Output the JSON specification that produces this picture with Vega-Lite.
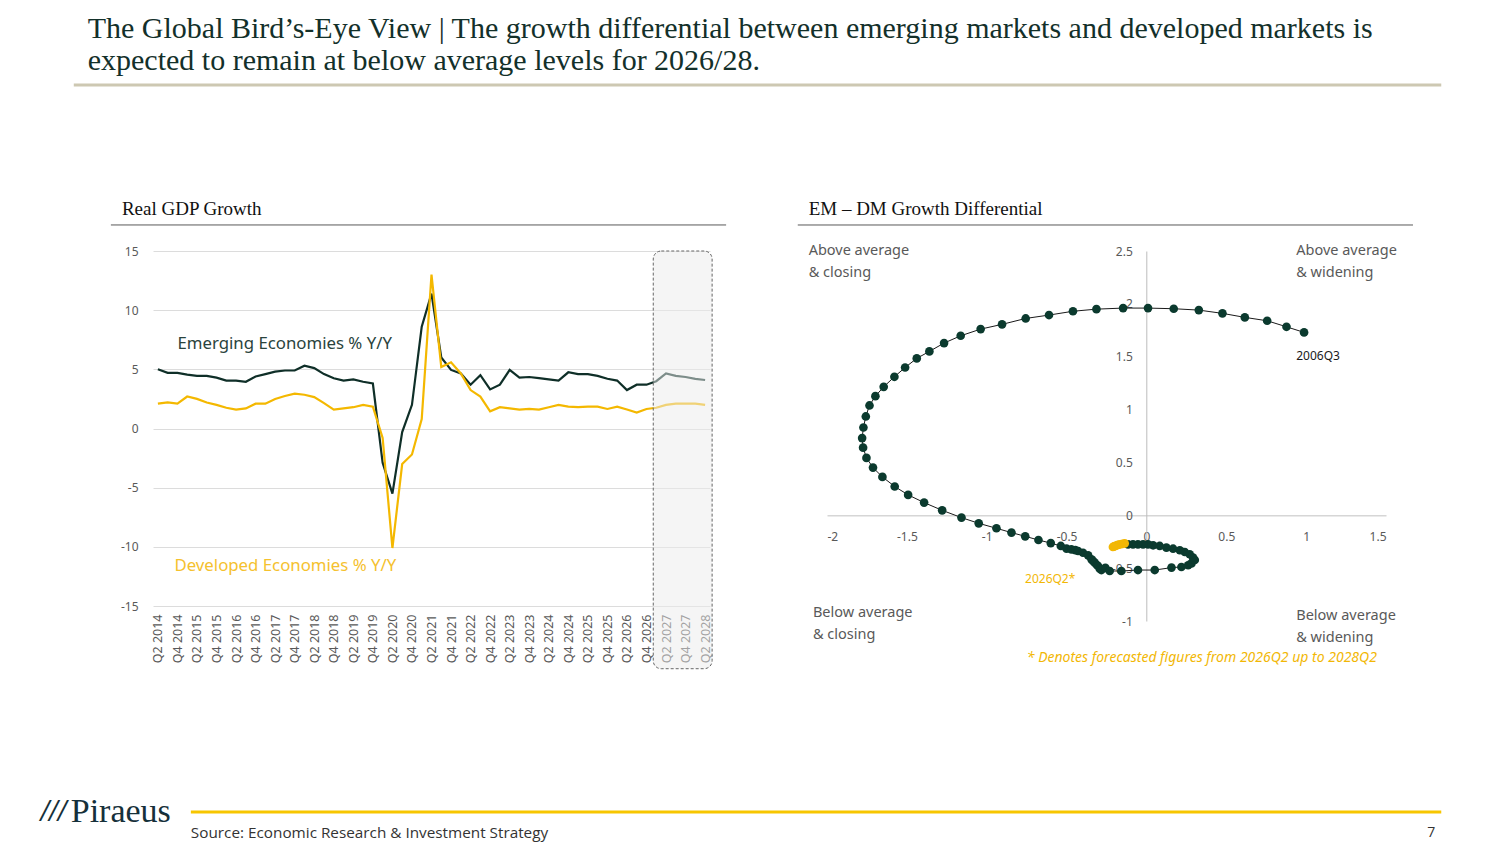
{
  "$schema": "https://vega.github.io/schema/vega-lite/v6.json",
  "background": "white",
  "padding": {"left": 40, "top": 13, "right": 40, "bottom": 10},
  "title": {
    "text": ["The Global Bird’s-Eye View | The growth differential between emerging markets and developed markets is", "expected to remain at below average levels for 2026/28."],
    "anchor": "start",
    "frame": "bounds",
    "font": "Liberation Serif",
    "fontSize": 30,
    "fontWeight": "normal",
    "color": "#13302a",
    "lineHeight": 32,
    "baseline": "bottom",
    "offset": -22,
    "dx": 47
  },
  "config": {
    "view": {"stroke": null},
    "axis": {"labelFont": "Noto Sans", "labelColor": "#595959", "labelFontSize": 12, "ticks": false, "title": null},
    "text": {"font": "Noto Sans"}
  },
  "datasets": {
    "gdp": [
      {"quarter": "Q2 2014", "emerging": 5.0, "developed": 2.1},
      {"quarter": "Q3 2014", "emerging": 4.7, "developed": 2.2},
      {"quarter": "Q4 2014", "emerging": 4.7, "developed": 2.1},
      {"quarter": "Q1 2015", "emerging": 4.55, "developed": 2.7},
      {"quarter": "Q2 2015", "emerging": 4.45, "developed": 2.5},
      {"quarter": "Q3 2015", "emerging": 4.45, "developed": 2.2},
      {"quarter": "Q4 2015", "emerging": 4.3, "developed": 2.0},
      {"quarter": "Q1 2016", "emerging": 4.05, "developed": 1.75},
      {"quarter": "Q2 2016", "emerging": 4.05, "developed": 1.6},
      {"quarter": "Q3 2016", "emerging": 3.95, "developed": 1.7},
      {"quarter": "Q4 2016", "emerging": 4.4, "developed": 2.1},
      {"quarter": "Q1 2017", "emerging": 4.6, "developed": 2.1},
      {"quarter": "Q2 2017", "emerging": 4.8, "developed": 2.5},
      {"quarter": "Q3 2017", "emerging": 4.9, "developed": 2.75},
      {"quarter": "Q4 2017", "emerging": 4.9, "developed": 2.95},
      {"quarter": "Q1 2018", "emerging": 5.3, "developed": 2.85},
      {"quarter": "Q2 2018", "emerging": 5.1, "developed": 2.65},
      {"quarter": "Q3 2018", "emerging": 4.6, "developed": 2.15},
      {"quarter": "Q4 2018", "emerging": 4.25, "developed": 1.6},
      {"quarter": "Q1 2019", "emerging": 4.05, "developed": 1.7},
      {"quarter": "Q2 2019", "emerging": 4.15, "developed": 1.8},
      {"quarter": "Q3 2019", "emerging": 3.95, "developed": 2.0},
      {"quarter": "Q4 2019", "emerging": 3.8, "developed": 1.85},
      {"quarter": "Q1 2020", "emerging": -2.9, "developed": -0.8},
      {"quarter": "Q2 2020", "emerging": -5.5, "developed": -10.1},
      {"quarter": "Q3 2020", "emerging": -0.3, "developed": -3.0},
      {"quarter": "Q4 2020", "emerging": 2.0, "developed": -2.2},
      {"quarter": "Q1 2021", "emerging": 8.6, "developed": 0.8},
      {"quarter": "Q2 2021", "emerging": 11.4, "developed": 13.0},
      {"quarter": "Q3 2021", "emerging": 6.0, "developed": 5.2},
      {"quarter": "Q4 2021", "emerging": 4.95, "developed": 5.6},
      {"quarter": "Q1 2022", "emerging": 4.65, "developed": 4.65},
      {"quarter": "Q2 2022", "emerging": 3.7, "developed": 3.25},
      {"quarter": "Q3 2022", "emerging": 4.5, "developed": 2.7},
      {"quarter": "Q4 2022", "emerging": 3.3, "developed": 1.45},
      {"quarter": "Q1 2023", "emerging": 3.7, "developed": 1.8},
      {"quarter": "Q2 2023", "emerging": 4.95, "developed": 1.7},
      {"quarter": "Q3 2023", "emerging": 4.3, "developed": 1.6},
      {"quarter": "Q4 2023", "emerging": 4.35, "developed": 1.65},
      {"quarter": "Q1 2024", "emerging": 4.25, "developed": 1.6},
      {"quarter": "Q2 2024", "emerging": 4.15, "developed": 1.8},
      {"quarter": "Q3 2024", "emerging": 4.05, "developed": 2.0},
      {"quarter": "Q4 2024", "emerging": 4.75, "developed": 1.85},
      {"quarter": "Q1 2025", "emerging": 4.6, "developed": 1.8},
      {"quarter": "Q2 2025", "emerging": 4.6, "developed": 1.85},
      {"quarter": "Q3 2025", "emerging": 4.45, "developed": 1.85},
      {"quarter": "Q4 2025", "emerging": 4.2, "developed": 1.65},
      {"quarter": "Q1 2026", "emerging": 4.05, "developed": 1.85},
      {"quarter": "Q2 2026", "emerging": 3.25, "developed": 1.6},
      {"quarter": "Q3 2026", "emerging": 3.7, "developed": 1.35},
      {"quarter": "Q4 2026", "emerging": 3.7, "developed": 1.65},
      {"quarter": "Q1 2027", "emerging": 4.0, "developed": 1.75},
      {"quarter": "Q2 2027", "emerging": 4.65, "developed": 2.0},
      {"quarter": "Q3 2027", "emerging": 4.45, "developed": 2.1},
      {"quarter": "Q4 2027", "emerging": 4.35, "developed": 2.1},
      {"quarter": "Q1 2028", "emerging": 4.2, "developed": 2.1},
      {"quarter": "Q2 2028", "emerging": 4.1, "developed": 2.0}
    ],
    "differential": [
      {"period": "2006Q3", "change": 0.987, "vs_average": 1.73, "phase": "Historical"},
      {"period": "2006Q4", "change": 0.877, "vs_average": 1.783, "phase": "Historical"},
      {"period": "2007Q1", "change": 0.756, "vs_average": 1.84, "phase": "Historical"},
      {"period": "2007Q2", "change": 0.616, "vs_average": 1.872, "phase": "Historical"},
      {"period": "2007Q3", "change": 0.476, "vs_average": 1.91, "phase": "Historical"},
      {"period": "2007Q4", "change": 0.328, "vs_average": 1.941, "phase": "Historical"},
      {"period": "2008Q1", "change": 0.171, "vs_average": 1.954, "phase": "Historical"},
      {"period": "2008Q2", "change": 0.01, "vs_average": 1.96, "phase": "Historical"},
      {"period": "2008Q3", "change": -0.146, "vs_average": 1.96, "phase": "Historical"},
      {"period": "2008Q4", "change": -0.313, "vs_average": 1.95, "phase": "Historical"},
      {"period": "2009Q1", "change": -0.46, "vs_average": 1.93, "phase": "Historical"},
      {"period": "2009Q2", "change": -0.61, "vs_average": 1.894, "phase": "Historical"},
      {"period": "2009Q3", "change": -0.756, "vs_average": 1.862, "phase": "Historical"},
      {"period": "2009Q4", "change": -0.904, "vs_average": 1.806, "phase": "Historical"},
      {"period": "2010Q1", "change": -1.038, "vs_average": 1.761, "phase": "Historical"},
      {"period": "2010Q2", "change": -1.163, "vs_average": 1.698, "phase": "Historical"},
      {"period": "2010Q3", "change": -1.267, "vs_average": 1.629, "phase": "Historical"},
      {"period": "2010Q4", "change": -1.359, "vs_average": 1.55, "phase": "Historical"},
      {"period": "2011Q1", "change": -1.438, "vs_average": 1.484, "phase": "Historical"},
      {"period": "2011Q2", "change": -1.511, "vs_average": 1.398, "phase": "Historical"},
      {"period": "2011Q3", "change": -1.578, "vs_average": 1.31, "phase": "Historical"},
      {"period": "2011Q4", "change": -1.645, "vs_average": 1.215, "phase": "Historical"},
      {"period": "2012Q1", "change": -1.697, "vs_average": 1.127, "phase": "Historical"},
      {"period": "2012Q2", "change": -1.734, "vs_average": 1.039, "phase": "Historical"},
      {"period": "2012Q3", "change": -1.757, "vs_average": 0.935, "phase": "Historical"},
      {"period": "2012Q4", "change": -1.772, "vs_average": 0.83, "phase": "Historical"},
      {"period": "2013Q1", "change": -1.78, "vs_average": 0.73, "phase": "Historical"},
      {"period": "2013Q2", "change": -1.774, "vs_average": 0.64, "phase": "Historical"},
      {"period": "2013Q3", "change": -1.753, "vs_average": 0.543, "phase": "Historical"},
      {"period": "2013Q4", "change": -1.712, "vs_average": 0.451, "phase": "Historical"},
      {"period": "2014Q1", "change": -1.653, "vs_average": 0.363, "phase": "Historical"},
      {"period": "2014Q2", "change": -1.576, "vs_average": 0.272, "phase": "Historical"},
      {"period": "2014Q3", "change": -1.492, "vs_average": 0.193, "phase": "Historical"},
      {"period": "2014Q4", "change": -1.392, "vs_average": 0.12, "phase": "Historical"},
      {"period": "2015Q1", "change": -1.279, "vs_average": 0.047, "phase": "Historical"},
      {"period": "2015Q2", "change": -1.158, "vs_average": -0.022, "phase": "Historical"},
      {"period": "2015Q3", "change": -1.05, "vs_average": -0.076, "phase": "Historical"},
      {"period": "2015Q4", "change": -0.939, "vs_average": -0.123, "phase": "Historical"},
      {"period": "2016Q1", "change": -0.845, "vs_average": -0.164, "phase": "Historical"},
      {"period": "2016Q2", "change": -0.759, "vs_average": -0.199, "phase": "Historical"},
      {"period": "2016Q3", "change": -0.676, "vs_average": -0.234, "phase": "Historical"},
      {"period": "2016Q4", "change": -0.599, "vs_average": -0.263, "phase": "Historical"},
      {"period": "2017Q1", "change": -0.536, "vs_average": -0.29, "phase": "Historical"},
      {"period": "2017Q2", "change": -0.5, "vs_average": -0.316, "phase": "Historical"},
      {"period": "2017Q3", "change": -0.47, "vs_average": -0.322, "phase": "Historical"},
      {"period": "2017Q4", "change": -0.445, "vs_average": -0.33, "phase": "Historical"},
      {"period": "2018Q1", "change": -0.428, "vs_average": -0.338, "phase": "Historical"},
      {"period": "2018Q2", "change": -0.397, "vs_average": -0.354, "phase": "Historical"},
      {"period": "2018Q3", "change": -0.365, "vs_average": -0.379, "phase": "Historical"},
      {"period": "2018Q4", "change": -0.344, "vs_average": -0.417, "phase": "Historical"},
      {"period": "2019Q1", "change": -0.334, "vs_average": -0.432, "phase": "Historical"},
      {"period": "2019Q2", "change": -0.324, "vs_average": -0.448, "phase": "Historical"},
      {"period": "2019Q3", "change": -0.31, "vs_average": -0.47, "phase": "Historical"},
      {"period": "2019Q4", "change": -0.303, "vs_average": -0.48, "phase": "Historical"},
      {"period": "2020Q1", "change": -0.292, "vs_average": -0.505, "phase": "Historical"},
      {"period": "2020Q2", "change": -0.282, "vs_average": -0.518, "phase": "Historical"},
      {"period": "2020Q3", "change": -0.257, "vs_average": -0.498, "phase": "Historical"},
      {"period": "2020Q4", "change": -0.23, "vs_average": -0.527, "phase": "Historical"},
      {"period": "2021Q1", "change": -0.157, "vs_average": -0.527, "phase": "Historical"},
      {"period": "2021Q2", "change": -0.053, "vs_average": -0.518, "phase": "Historical"},
      {"period": "2021Q3", "change": 0.052, "vs_average": -0.518, "phase": "Historical"},
      {"period": "2021Q4", "change": 0.157, "vs_average": -0.495, "phase": "Historical"},
      {"period": "2022Q1", "change": 0.219, "vs_average": -0.489, "phase": "Historical"},
      {"period": "2022Q2", "change": 0.261, "vs_average": -0.473, "phase": "Historical"},
      {"period": "2022Q3", "change": 0.282, "vs_average": -0.455, "phase": "Historical"},
      {"period": "2022Q4", "change": 0.303, "vs_average": -0.423, "phase": "Historical"},
      {"period": "2023Q1", "change": 0.292, "vs_average": -0.401, "phase": "Historical"},
      {"period": "2023Q2", "change": 0.271, "vs_average": -0.369, "phase": "Historical"},
      {"period": "2023Q3", "change": 0.24, "vs_average": -0.347, "phase": "Historical"},
      {"period": "2023Q4", "change": 0.209, "vs_average": -0.331, "phase": "Historical"},
      {"period": "2024Q1", "change": 0.167, "vs_average": -0.316, "phase": "Historical"},
      {"period": "2024Q2", "change": 0.125, "vs_average": -0.306, "phase": "Historical"},
      {"period": "2024Q3", "change": 0.083, "vs_average": -0.29, "phase": "Historical"},
      {"period": "2024Q4", "change": 0.042, "vs_average": -0.284, "phase": "Historical"},
      {"period": "2025Q1", "change": 0.01, "vs_average": -0.275, "phase": "Historical"},
      {"period": "2025Q2", "change": -0.021, "vs_average": -0.275, "phase": "Historical"},
      {"period": "2025Q3", "change": -0.053, "vs_average": -0.275, "phase": "Historical"},
      {"period": "2025Q4", "change": -0.084, "vs_average": -0.275, "phase": "Historical"},
      {"period": "2026Q1", "change": -0.115, "vs_average": -0.275, "phase": "Historical"},
      {"period": "2026Q2", "change": -0.136, "vs_average": -0.266, "phase": "Forecast"},
      {"period": "2026Q3", "change": -0.15, "vs_average": -0.27, "phase": "Forecast"},
      {"period": "2026Q4", "change": -0.162, "vs_average": -0.274, "phase": "Forecast"},
      {"period": "2027Q1", "change": -0.173, "vs_average": -0.278, "phase": "Forecast"},
      {"period": "2027Q2", "change": -0.183, "vs_average": -0.283, "phase": "Forecast"},
      {"period": "2027Q3", "change": -0.192, "vs_average": -0.288, "phase": "Forecast"},
      {"period": "2027Q4", "change": -0.199, "vs_average": -0.292, "phase": "Forecast"},
      {"period": "2028Q1", "change": -0.205, "vs_average": -0.296, "phase": "Forecast"},
      {"period": "2028Q2", "change": -0.21, "vs_average": -0.3, "phase": "Forecast"}
    ],
    "single": [{}]
  },
  "bounds": "flush",
  "spacing": 117,
  "hconcat": [
    {
      "width": 557,
      "height": 355,
      "encoding": {
        "x": {
          "field": "quarter",
          "type": "ordinal",
          "scale": {
            "type": "point",
            "padding": 0.5,
            "domain": ["Q2 2014","Q3 2014","Q4 2014","Q1 2015","Q2 2015","Q3 2015","Q4 2015","Q1 2016","Q2 2016","Q3 2016","Q4 2016","Q1 2017","Q2 2017","Q3 2017","Q4 2017","Q1 2018","Q2 2018","Q3 2018","Q4 2018","Q1 2019","Q2 2019","Q3 2019","Q4 2019","Q1 2020","Q2 2020","Q3 2020","Q4 2020","Q1 2021","Q2 2021","Q3 2021","Q4 2021","Q1 2022","Q2 2022","Q3 2022","Q4 2022","Q1 2023","Q2 2023","Q3 2023","Q4 2023","Q1 2024","Q2 2024","Q3 2024","Q4 2024","Q1 2025","Q2 2025","Q3 2025","Q4 2025","Q1 2026","Q2 2026","Q3 2026","Q4 2026","Q1 2027","Q2 2027","Q3 2027","Q4 2027","Q1 2028","Q2 2028"]
          },
          "axis": {
            "values": ["Q2 2014","Q4 2014","Q2 2015","Q4 2015","Q2 2016","Q4 2016","Q2 2017","Q4 2017","Q2 2018","Q4 2018","Q2 2019","Q4 2019","Q2 2020","Q4 2020","Q2 2021","Q4 2021","Q2 2022","Q4 2022","Q2 2023","Q4 2023","Q2 2024","Q4 2024","Q2 2025","Q4 2025","Q2 2026","Q4 2026","Q2 2027","Q4 2027","Q2 2028"],
            "labelAngle": -90,
            "labelPadding": 8,
            "labelFontSize": 12.5,
            "domain": false,
            "grid": false
          }
        }
      },
      "layer": [
        {
          "data": {"name": "gdp"},
          "mark": {"type": "line", "color": "#0f2f28", "strokeWidth": 2.2},
          "encoding": {
            "y": {
              "field": "emerging",
              "type": "quantitative",
              "scale": {"domain": [-15, 15], "nice": false, "zero": false},
              "axis": {"values": [-15, -10, -5, 0, 5, 10, 15], "format": "~g", "labelExpr": "replace(datum.label, '−', '-')", "grid": true, "gridColor": "#dcdcdc", "domain": false, "labelPadding": 15}
            }
          }
        },
        {
          "data": {"name": "gdp"},
          "mark": {"type": "line", "color": "#f4b800", "strokeWidth": 2.2},
          "encoding": {"y": {"field": "developed", "type": "quantitative"}}
        },
        {
          "data": {"name": "single"},
          "mark": {"type": "text", "align": "left", "baseline": "middle", "fontSize": 16.8, "color": "#2a433d"},
          "encoding": {"x": {"datum": "Q4 2014", "type": "ordinal"}, "y": {"datum": 7.14}, "text": {"value": "Emerging Economies % Y/Y"}}
        },
        {
          "data": {"name": "single"},
          "mark": {"type": "text", "align": "left", "baseline": "middle", "fontSize": 16.8, "dx": -3, "color": "#f5c12e"},
          "encoding": {"x": {"datum": "Q4 2014", "type": "ordinal"}, "y": {"datum": -11.62}, "text": {"value": "Developed Economies % Y/Y"}}
        },
        {
          "data": {"name": "single"},
          "mark": {"type": "text", "align": "left", "baseline": "alphabetic", "font": "Liberation Serif", "fontSize": 19, "dx": -36, "color": "#111111"},
          "encoding": {"x": {"datum": "Q2 2014", "type": "ordinal"}, "y": {"datum": 18.04}, "text": {"value": "Real GDP Growth"}}
        },
        {
          "data": {"name": "single"},
          "mark": {"type": "rule", "color": "#595959", "strokeWidth": 1, "xOffset": -47, "x2Offset": 21},
          "encoding": {"x": {"datum": "Q2 2014", "type": "ordinal"}, "x2": {"datum": "Q2 2028"}, "y": {"datum": 17.2}}
        },
        {
          "data": {"name": "single"},
          "mark": {"type": "rect", "fill": "#ebebeb", "fillOpacity": 0.5, "stroke": "#666666", "strokeWidth": 1, "strokeDash": [3, 2], "cornerRadius": 8, "xOffset": -3, "x2Offset": 7},
          "encoding": {"x": {"datum": "Q1 2027", "type": "ordinal"}, "x2": {"datum": "Q2 2028"}, "y": {"datum": 15}, "y2": {"datum": -20.3}}
        }
      ]
    },
    {
      "width": 559,
      "height": 370,
      "layer": [
        {
          "data": {"name": "single"},
          "mark": {"type": "rule", "color": "#cdc8b2", "strokeWidth": 3},
          "encoding": {"x": {"datum": -6.716}, "x2": {"datum": 1.846}, "y": {"datum": 4.07}}
        },
        {
          "data": {"name": "single"},
          "mark": {"type": "rule", "color": "#f7c600", "strokeWidth": 3},
          "encoding": {"x": {"datum": -5.983}, "x2": {"datum": 1.846}, "y": {"datum": -2.807}}
        },
        {
          "data": {"name": "single"},
          "mark": {"type": "text", "align": "left", "baseline": "middle", "font": "Liberation Serif", "fontSize": 31, "fontStyle": "italic", "fontWeight": "bold", "color": "#16303a"},
          "encoding": {"x": {"datum": -6.923}, "y": {"datum": -2.807}, "text": {"value": "///"}}
        },
        {
          "data": {"name": "single"},
          "mark": {"type": "text", "align": "left", "baseline": "middle", "font": "Liberation Serif", "fontSize": 34, "color": "#16303a"},
          "encoding": {"x": {"datum": -6.735}, "y": {"datum": -2.807}, "text": {"value": "Piraeus"}}
        },
        {
          "data": {"name": "single"},
          "mark": {"type": "text", "align": "left", "baseline": "middle", "font": "Open Sans", "fontSize": 15.3, "color": "#333333"},
          "encoding": {"x": {"datum": -5.983}, "y": {"datum": -3.006}, "text": {"value": "Source: Economic Research & Investment Strategy"}}
        },
        {
          "data": {"name": "single"},
          "mark": {"type": "text", "align": "left", "baseline": "middle", "font": "Open Sans", "fontSize": 14, "color": "#333333"},
          "encoding": {"x": {"datum": 1.758}, "y": {"datum": -3.006}, "text": {"value": "7"}}
        },
        {
          "data": {"name": "single"},
          "mark": {"type": "text", "align": "left", "baseline": "alphabetic", "font": "Liberation Serif", "fontSize": 19, "color": "#111111"},
          "encoding": {"x": {"datum": -2.115}, "y": {"datum": 2.841}, "text": {"value": "EM – DM Growth Differential"}}
        },
        {
          "data": {"name": "single"},
          "mark": {"type": "rule", "color": "#595959", "strokeWidth": 1},
          "encoding": {"x": {"datum": -2.183}, "x2": {"datum": 1.669}, "y": {"datum": 2.746}}
        },
        {
          "data": {"name": "single"},
          "mark": {"type": "text", "align": "left", "baseline": "alphabetic", "fontSize": 14.5, "lineBreak": "\n", "lineHeight": 22, "color": "#595959"},
          "encoding": {"x": {"datum": -2.115}, "y": {"datum": 2.462}, "text": {"value": "Above average\n& closing"}}
        },
        {
          "data": {"name": "single"},
          "mark": {"type": "text", "align": "left", "baseline": "alphabetic", "fontSize": 14.5, "lineBreak": "\n", "lineHeight": 22, "color": "#595959"},
          "encoding": {"x": {"datum": 0.938}, "y": {"datum": 2.462}, "text": {"value": "Above average\n& widening"}}
        },
        {
          "data": {"name": "single"},
          "mark": {"type": "text", "align": "left", "baseline": "alphabetic", "fontSize": 14.5, "lineBreak": "\n", "lineHeight": 22, "color": "#595959"},
          "encoding": {"x": {"datum": -2.088}, "y": {"datum": -0.962}, "text": {"value": "Below average\n& closing"}}
        },
        {
          "data": {"name": "single"},
          "mark": {"type": "text", "align": "left", "baseline": "alphabetic", "fontSize": 14.5, "lineBreak": "\n", "lineHeight": 22, "color": "#595959"},
          "encoding": {"x": {"datum": 0.938}, "y": {"datum": -0.991}, "text": {"value": "Below average\n& widening"}}
        },
        {
          "data": {"name": "differential"},
          "mark": {"type": "line", "color": "#1a1a1a", "strokeWidth": 1},
          "encoding": {
            "x": {
              "field": "change",
              "type": "quantitative",
              "scale": {"domain": [-2, 1.5], "nice": false, "zero": false},
              "axis": {"orient": "bottom", "offset": -105.7, "values": [-2, -1.5, -1, -0.5, 0, 0.5, 1, 1.5], "format": "~g", "labelExpr": "replace(datum.label, '−', '-')", "grid": false, "domainColor": "#d6d6d6", "domainWidth": 1.5, "labelPadding": 16}
            },
            "y": {
              "field": "vs_average",
              "type": "quantitative",
              "scale": {"domain": [-1, 2.5], "nice": false, "zero": false},
              "axis": {"orient": "left", "offset": -319.3, "values": [-1, -0.5, 0, 0.5, 1, 1.5, 2, 2.5], "format": "~g", "labelExpr": "replace(datum.label, '−', '-')", "grid": false, "domainColor": "#bdbdbd", "domainWidth": 1, "labelPadding": 14}
            },
            "order": {"field": "period", "type": "ordinal"}
          }
        },
        {
          "data": {"name": "differential"},
          "mark": {"type": "circle", "size": 75, "opacity": 1},
          "encoding": {
            "x": {"field": "change", "type": "quantitative"},
            "y": {"field": "vs_average", "type": "quantitative"},
            "color": {"field": "phase", "type": "nominal", "scale": {"domain": ["Historical", "Forecast"], "range": ["#0b3a2e", "#f2b705"]}, "legend": null},
            "order": {"field": "period", "type": "ordinal"}
          }
        },
        {
          "data": {"name": "single"},
          "mark": {"type": "text", "align": "left", "baseline": "middle", "fontSize": 12, "color": "#1a1a1a"},
          "encoding": {"x": {"datum": 0.938}, "y": {"datum": 1.507}, "text": {"value": "2006Q3"}}
        },
        {
          "data": {"name": "single"},
          "mark": {"type": "text", "align": "left", "baseline": "middle", "fontSize": 12, "color": "#f2b705"},
          "encoding": {"x": {"datum": -0.76}, "y": {"datum": -0.603}, "text": {"value": "2026Q2*"}}
        },
        {
          "data": {"name": "single"},
          "mark": {"type": "text", "align": "left", "baseline": "middle", "fontSize": 14, "fontStyle": "italic", "color": "#f2b705"},
          "encoding": {"x": {"datum": -0.749}, "y": {"datum": -1.35}, "text": {"value": "* Denotes forecasted figures from 2026Q2 up to 2028Q2"}}
        }
      ]
    }
  ]
}
